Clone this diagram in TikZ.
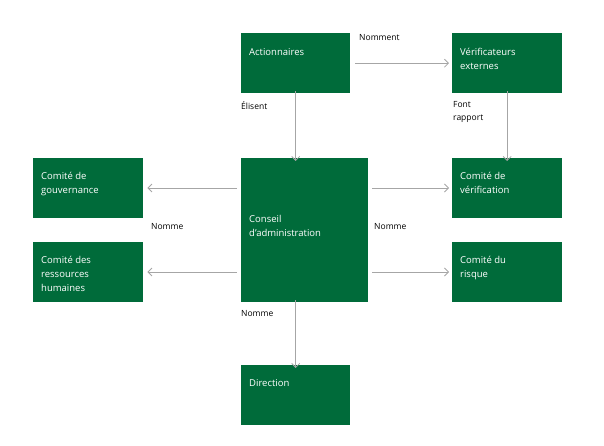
\documentclass[tikz,border=0pt]{standalone}
\usepackage{fontspec}
\setmainfont{Open Sans}
\usetikzlibrary{arrows.meta}
\definecolor{grn}{HTML}{006B3A}
\definecolor{gry}{HTML}{A6A6A6}
\tikzset{
  box/.style={draw=none,fill=grn,anchor=north west,inner sep=0pt},
  txt/.style={anchor=north west,text=white,align=left,inner sep=0pt,font=\fontsize{9.5}{14}\selectfont},
  lbl/.style={anchor=north west,inner sep=0pt,align=left,font=\fontsize{8.5}{13}\selectfont},
  arr/.style={draw=gry,line width=0.8pt,-{Straight Barb[length=4pt,width=8pt]}}
}
\begin{document}
\begin{tikzpicture}[x=1pt,y=-1pt]
\useasboundingbox (0,0) rectangle (604,446);
\node[box,minimum width=109,minimum height=60] (act) at (241,33) {};
\node[box,minimum width=110,minimum height=60] (ver) at (452,33) {};
\node[box,minimum width=110,minimum height=60] (gov) at (33,158) {};
\node[box,minimum width=127,minimum height=144] (con) at (241,158) {};
\node[box,minimum width=110,minimum height=60] (vrf) at (452,158) {};
\node[box,minimum width=110,minimum height=60] (rh) at (33,242) {};
\node[box,minimum width=110,minimum height=60] (ris) at (452,242) {};
\node[box,minimum width=109,minimum height=60] (dir) at (241,365) {};
\node[txt] (tact) at (249,48) {Actionnaires};
\node[txt] (tver) at (460,48) {Vérificateurs\\externes};
\node[txt] (tgov) at (41,172) {Comité de\\gouvernance};
\node[txt] (tcon) at (249,215) {Conseil\\d’administration};
\node[txt] (tvrf) at (460,172) {Comité de\\vérification};
\node[txt] (trh) at (41,256) {Comité des\\ressources\\humaines};
\node[txt] (tris) at (460,256) {Comité du\\risque};
\node[txt] (tdir) at (249,379) {Direction};
\coordinate (cl1) at (237,188); \coordinate (cl2) at (237,272);
\coordinate (cr1) at (372,188); \coordinate (cr2) at (372,272);
\draw[arr] ([xshift=5]act.east) -- ([xshift=-3]ver.west);
\draw[arr] ([yshift=2]act.south) -- ([yshift=-3]con.north -| act.south);
\draw[arr] ([yshift=2]ver.south) -- ([yshift=-3]vrf.north);
\draw[arr] (cl1) -- ([xshift=4]gov.east |- cl1);
\draw[arr] (cl2) -- ([xshift=4]rh.east |- cl2);
\draw[arr] (cr1) -- ([xshift=-3]vrf.west |- cr1);
\draw[arr] (cr2) -- ([xshift=-3]ris.west |- cr2);
\draw[arr] ([yshift=2]con.south -| act.south) -- ([yshift=-3]dir.north);
\node[lbl] (l1) at (359,34) {Nomment};
\node[lbl] (l2) at (241,101) {Élisent};
\node[lbl] (l3) at (453,101) {Font\\rapport};
\node[lbl] (l4) at (151,223) {Nomme};
\node[lbl] (l5) at (374,223) {Nomme};
\node[lbl] (l6) at (241,310) {Nomme};
\end{tikzpicture}
\end{document}
